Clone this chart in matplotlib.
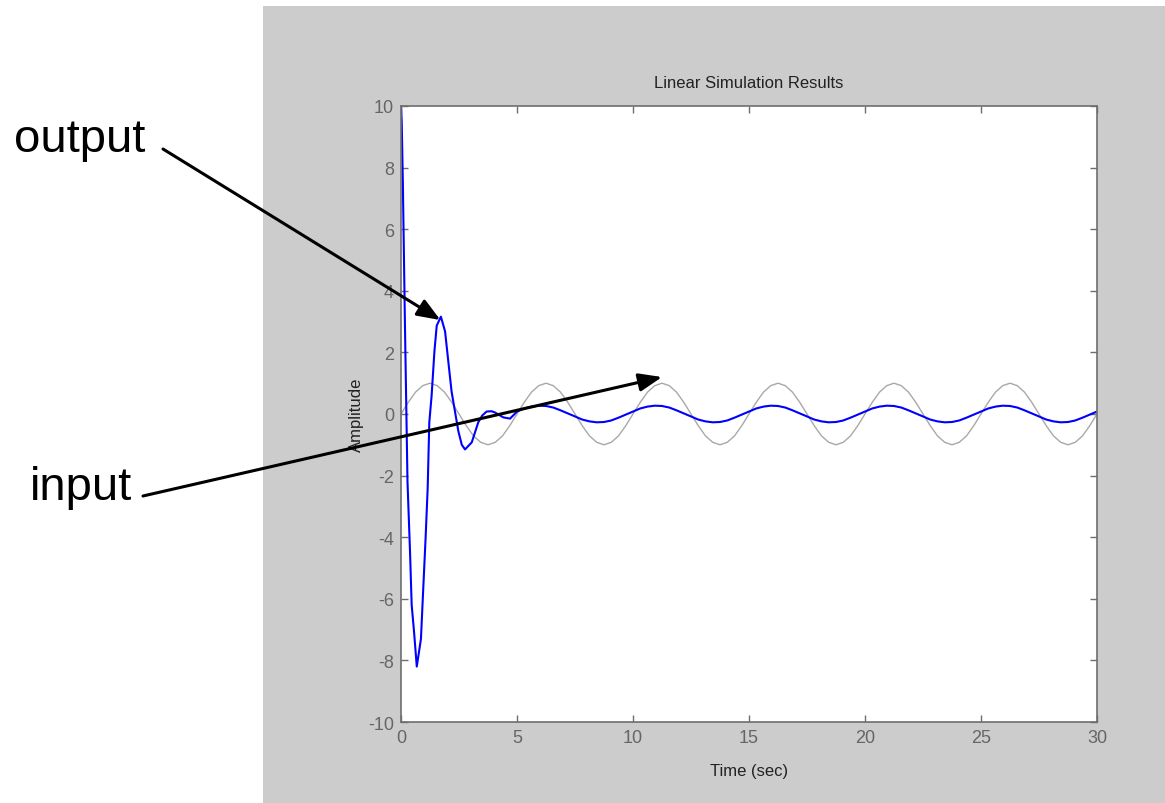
import numpy as np
import matplotlib
matplotlib.use("Agg")
import matplotlib.pyplot as plt
from matplotlib.patches import Rectangle

plt.rcParams["axes.unicode_minus"] = False

# input signal, read every 0.3125 s (16 samples per 5 s period)
t_in = np.linspace(0, 30, 97)
u_in = [0, .38, .71, .92, 1, .92, .71, .38, 0, -.38, -.71, -.92, -1, -.92, -.71, -.38,
        0, .38, .71, .92, 1, .92, .71, .38, 0, -.38, -.71, -.92, -1, -.92, -.71, -.38,
        0, .38, .71, .92, 1, .92, .71, .38, 0, -.38, -.71, -.92, -1, -.92, -.71, -.38,
        0, .38, .71, .92, 1, .92, .71, .38, 0, -.38, -.71, -.92, -1, -.92, -.71, -.38,
        0, .38, .71, .92, 1, .92, .71, .38, 0, -.38, -.71, -.92, -1, -.92, -.71, -.38,
        0, .38, .71, .92, 1, .92, .71, .38, 0, -.38, -.71, -.92, -1, -.92, -.71, -.38,
        0]

# output: transient part (read point by point)
t_tr = [0.0, 0.03, 0.08, 0.17, 0.28, 0.39, 0.46, 0.56, 0.68, 0.86, 0.96, 1.06, 1.15, 1.22,
        1.32, 1.44, 1.54, 1.72, 1.90, 2.04, 2.18, 2.30, 2.47, 2.62, 2.76, 3.05, 3.33,
        3.50, 3.69, 3.90, 4.05, 4.41, 4.70]
y_tr = [10.0, 9.5, 7.5, 2.9, -2.2, -4.5, -6.2, -7.05, -8.2, -7.3, -5.65, -4.03, -2.4, -0.27,
        0.6, 2.03, 2.87, 3.16, 2.68, 1.7, 0.73, 0.2, -0.55, -1.0, -1.15, -0.92, -0.27,
        -0.05, 0.08, 0.09, 0.05, -0.11, -0.15]

# output: steady part from 5 s, every 0.3125 s
t_ss = np.linspace(5, 30, 81)
y_ss = [.08, .18, .24, .27, .26, .21, .12, .02, -.08, -.18, -.24, -.27, -.26, -.21, -.12, -.02,
        .08, .18, .24, .27, .26, .21, .12, .02, -.08, -.18, -.24, -.27, -.26, -.21, -.12, -.02,
        .08, .18, .24, .27, .26, .21, .12, .02, -.08, -.18, -.24, -.27, -.26, -.21, -.12, -.02,
        .08, .18, .24, .27, .26, .21, .12, .02, -.08, -.18, -.24, -.27, -.26, -.21, -.12, -.02,
        .08, .18, .24, .27, .26, .21, .12, .02, -.08, -.18, -.24, -.27, -.26, -.21, -.12, -.02,
        .08]

t_out = np.concatenate([t_tr, t_ss])
y_out = np.concatenate([y_tr, y_ss])

xticks = [0, 5, 10, 15, 20, 25, 30]
yticks = [-10, -8, -6, -4, -2, 0, 2, 4, 6, 8, 10]

W, H = 1165, 804
fig = plt.figure(figsize=(W / 100, H / 100), dpi=100)
fig.patch.set_facecolor("white")
fig.patches.append(Rectangle((263 / W, 0), 1 - 263 / W, (H - 7) / H,
                             transform=fig.transFigure, facecolor="#cccccc",
                             edgecolor="none", zorder=-10))

small = ["Liberation Sans Narrow", "Liberation Sans", "DejaVu Sans"]
ax = fig.add_axes([401 / W, (H - 723) / H, (1097 - 401) / W, (723 - 107) / H])
ax.set_facecolor("white")

ax.plot(t_in, u_in, color="#a8a8a8", lw=1.0)
ax.plot(t_out, y_out, color="#0000ff", lw=1.5)

ax.set_xlim(0, 30)
ax.set_ylim(-10, 10)
ax.set_xticks(xticks)
ax.set_yticks(yticks)
ax.tick_params(direction="in", top=True, right=True, length=5, width=1,
               color="#6e6e6e", labelcolor="#666666", labelsize=13, pad=5)
for lab in ax.get_xticklabels() + ax.get_yticklabels():
    lab.set_family(small)
for s in ax.spines.values():
    s.set_color("#6e6e6e")
    s.set_linewidth(1.2)

ax.set_title("Linear Simulation Results", family=small, fontsize=12, color="#222222", pad=14)
ax.set_xlabel("Time (sec)", family=small, fontsize=12, color="#222222", labelpad=12)
ax.set_ylabel("Amplitude", family=small, fontsize=12, color="#222222", labelpad=3)

big = ["Liberation Sans", "DejaVu Sans"]
fig.text(14 / W, 1 - 140 / H, "output", family=big, fontsize=34, va="center", ha="left")
fig.text(30 / W, 1 - 488 / H, "input", family=big, fontsize=34, va="center", ha="left")

arrow = dict(arrowstyle="-|>,head_length=1.4,head_width=0.55", color="black", lw=2.2,
             shrinkA=0, shrinkB=0)
ax.annotate("", xy=(1.7, 3.05), xycoords="data", xytext=(163 / W, 1 - 150 / H),
            textcoords="figure fraction", arrowprops=arrow, annotation_clip=False, zorder=10)
ax.annotate("", xy=(11.25, 1.2), xycoords="data", xytext=(143 / W, 1 - 497 / H),
            textcoords="figure fraction", arrowprops=arrow, annotation_clip=False, zorder=10)

fig.savefig("out.png", dpi=100)
